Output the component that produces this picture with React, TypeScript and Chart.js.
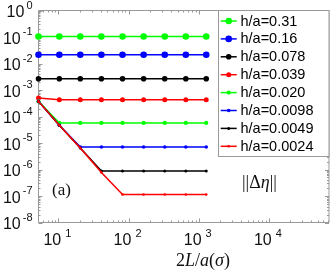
import React, { useEffect, useRef } from 'react';
import { Chart, registerables } from 'chart.js';
Chart.register(...registerables);

const xValues = [5.2, 10.3, 20.5, 41, 82, 164, 328, 655, 1280];
const seriesLabels = ['h/a=0.31', 'h/a=0.16', 'h/a=0.078', 'h/a=0.039', 'h/a=0.020', 'h/a=0.0098', 'h/a=0.0049', 'h/a=0.0024'];
const s031 = [0.105, 0.105, 0.105, 0.105, 0.105, 0.105, 0.105, 0.105, 0.105];
const s016 = [0.0214, 0.0214, 0.0214, 0.0214, 0.0214, 0.0214, 0.0214, 0.0214, 0.0214];
const s0078 = [0.00267, 0.00267, 0.00267, 0.00267, 0.00267, 0.00267, 0.00267, 0.00267, 0.00267];
const s0039 = [4.96e-4, 4.32e-4, 4.32e-4, 4.32e-4, 4.32e-4, 4.32e-4, 4.32e-4, 4.32e-4, 4.32e-4];
const s0020 = [3.72e-4, 5.7e-5, 5.7e-5, 5.7e-5, 5.7e-5, 5.7e-5, 5.7e-5, 5.7e-5, 5.7e-5];
const s00098 = [3.72e-4, 4.7e-5, 7.1e-6, 7.1e-6, 7.1e-6, 7.1e-6, 7.1e-6, 7.1e-6, 7.1e-6];
const s00049 = [3.72e-4, 4.7e-5, 6.5e-6, 8.8e-7, 8.8e-7, 8.8e-7, 8.8e-7, 8.8e-7, 8.8e-7];
const s00024 = [3.72e-4, 4.7e-5, 6.5e-6, 7.7e-7, 1.14e-7, 1.14e-7, 1.14e-7, 1.14e-7, 1.14e-7];
const seriesColors = ['#00ff00', '#0000ff', '#000000', '#ff0000', '#00ff00', '#0000ff', '#000000', '#ff0000'];
const markerRadii = [3.3, 3.3, 2.8, 2.5, 2.1, 1.8, 1.5, 1.3];
const yTickExponents = [0, -1, -2, -3, -4, -5, -6, -7, -8];
const xTickExponents = [1, 2, 3, 4];

const SANS = '"Liberation Sans", Arial, sans-serif';
const SERIF = '"Liberation Serif", "Times New Roman", serif';
const AXIS_COLOR = '#999999';

export default function App() {
  const ref = useRef<HTMLCanvasElement>(null);
  useEffect(() => {
    const canvas = ref.current!;
    const series = [s031, s016, s0078, s0039, s0020, s00098, s00049, s00024];
    const datasets = series.map((vals, i) => ({
      label: seriesLabels[i],
      data: vals.map((v, j) => ({ x: xValues[j], y: v })),
      borderColor: seriesColors[i],
      backgroundColor: seriesColors[i],
      pointBackgroundColor: seriesColors[i],
      pointBorderColor: seriesColors[i],
      pointRadius: markerRadii[i],
      pointBorderWidth: 0,
      borderWidth: 1.5,
      order: series.length - 1 - i,
      clip: 6,
      tension: 0,
    }));

    const decor = {
      id: 'decor',
      beforeDatasetsDraw(chart: any) {
        const ctx = chart.ctx;
        const { left, right, top, bottom } = chart.chartArea;
        const xs = chart.scales.x;
        const ys = chart.scales.y;
        ctx.save();
        ctx.fillStyle = '#fff';
        ctx.fillRect(left, top, right - left, bottom - top);
        ctx.strokeStyle = AXIS_COLOR;
        ctx.lineWidth = 1;
        ctx.beginPath();
        for (let d = 0; d <= 4; d++) {
          for (let m = 1; m <= 9; m++) {
            const v = m * Math.pow(10, d);
            if (v < xs.min || v > xs.max) continue;
            const px = Math.round(xs.getPixelForValue(v)) + 0.5;
            const len = m === 1 ? 4 : 2;
            ctx.moveTo(px, bottom); ctx.lineTo(px, bottom - len);
            ctx.moveTo(px, top); ctx.lineTo(px, top + len);
          }
        }
        for (let d = -8; d <= 0; d++) {
          for (let m = 1; m <= 9; m++) {
            const v = m * Math.pow(10, d);
            if (v < ys.min * 0.999 || v > ys.max * 1.001) continue;
            const py = Math.round(ys.getPixelForValue(v)) + 0.5;
            const len = m === 1 ? 4 : 2;
            ctx.moveTo(left, py); ctx.lineTo(left + len, py);
            ctx.moveTo(right, py); ctx.lineTo(right - len, py);
          }
        }
        ctx.stroke();
        ctx.beginPath();
        ctx.rect(left, top, right - left, bottom - top);
        ctx.stroke();

        ctx.fillStyle = '#111';
        ctx.textBaseline = 'middle';
        yTickExponents.forEach((e) => {
          const py = ys.getPixelForValue(Math.pow(10, e));
          ctx.font = '11px ' + SANS;
          ctx.textAlign = 'right';
          const es = String(e);
          const ew = ctx.measureText(es).width;
          ctx.fillText(es, 32.5, py - 5);
          ctx.font = '16px ' + SANS;
          ctx.fillText('10', 32.5 - ew - 2, py + 2.5);
        });
        xTickExponents.forEach((e) => {
          const px = xs.getPixelForValue(Math.pow(10, e));
          ctx.font = '16px ' + SANS;
          const bw = ctx.measureText('10').width;
          ctx.font = '11px ' + SANS;
          const es = String(e);
          const ew = ctx.measureText(es).width;
          const total = bw + 4 + ew;
          const x0 = px - total / 2 - 1;
          ctx.textAlign = 'left';
          ctx.font = '16px ' + SANS;
          ctx.fillText('10', x0, 241);
          ctx.font = '11px ' + SANS;
          ctx.fillText(es, x0 + bw + 4, 234);
        });
        ctx.restore();
      },
      afterDraw(chart: any) {
        const ctx = chart.ctx;
        const { right, top } = chart.chartArea;
        ctx.save();
        const lx = 218.5;
        const ly = top;
        const lb = 156.5;
        ctx.fillStyle = '#fff';
        ctx.fillRect(lx, ly, right - lx, lb - ly);
        ctx.strokeStyle = AXIS_COLOR;
        ctx.lineWidth = 1;
        ctx.strokeRect(lx, ly, right - lx, lb - ly);
        chart.data.datasets.forEach((ds: any, i: number) => {
          const cy = 21 + i * 17.9;
          ctx.strokeStyle = ds.borderColor;
          ctx.lineWidth = 1.5;
          ctx.beginPath();
          ctx.moveTo(220.7, cy); ctx.lineTo(236.7, cy);
          ctx.stroke();
          ctx.fillStyle = ds.borderColor;
          ctx.beginPath();
          ctx.arc(228.7, cy, ds.pointRadius, 0, Math.PI * 2);
          ctx.fill();
          ctx.fillStyle = '#000';
          ctx.font = '14.5px ' + SANS;
          ctx.textAlign = 'left';
          ctx.textBaseline = 'middle';
          ctx.fillText(ds.label, 240.5, cy + 0.5);
        });

        ctx.fillStyle = '#111';
        ctx.textBaseline = 'middle';
        ctx.textAlign = 'left';
        ctx.font = '17px ' + SERIF;
        ctx.fillText('(a)', 52, 191);

        const drawPieces = (pieces: [string, boolean][], x: number, y: number, size: number) => {
          let cx = x;
          pieces.forEach(([t, it]) => {
            ctx.font = (it ? 'italic ' : '') + size + 'px ' + SERIF;
            ctx.fillText(t, cx, y);
            cx += ctx.measureText(t).width;
          });
        };
        drawPieces([['||', false], ['Δ', false], ['η', true], ['||', false]], 242, 183, 18);
        drawPieces([['2', false], ['L', true], ['/', false], ['a', true], ['(', false], ['σ', true], [')', false]], 176, 261.5, 18);
        ctx.restore();
      },
    };

    const chart = new Chart(canvas, {
      type: 'line',
      data: { datasets: datasets as any },
      options: {
        animation: false,
        responsive: false,
        maintainAspectRatio: false,
        devicePixelRatio: 1,
        events: [],
        layout: { padding: { left: 38.5, top: 10.5, right: 2.5, bottom: 51.5 } },
        plugins: { legend: { display: false }, tooltip: { enabled: false } },
        scales: {
          x: { type: 'logarithmic', min: 5.2, max: 72000, display: false },
          y: { type: 'logarithmic', min: 1e-8, max: 1, display: false },
        },
      },
      plugins: [decor],
    });
    return () => chart.destroy();
  }, []);
  return (
    <div style={{ position: 'fixed', left: 0, top: 0, width: 333, height: 274, background: '#fff' }}>
      <canvas ref={ref} width={333} height={274} style={{ width: 333, height: 274, display: 'block' }} />
    </div>
  );
}
